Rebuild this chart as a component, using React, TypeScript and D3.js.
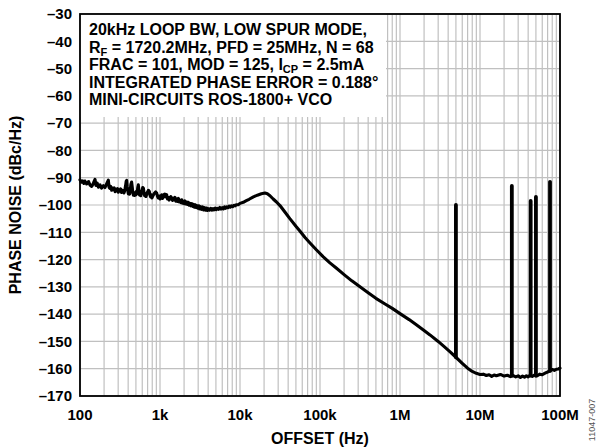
import React, { useEffect } from "react";
import * as d3 from "d3";

const yTicks = [-30, -40, -50, -60, -70, -80, -90, -100, -110, -120, -130, -140, -150, -160, -170];
const xTicks = [1e2, 1e3, 1e4, 1e5, 1e6, 1e7, 1e8];
const xTickLabels = ["100", "1k", "10k", "100k", "1M", "10M", "100M"];

// phase noise trace, [offset Hz, dBc/Hz]
const trace: [number, number][] = [
  [100, -90.8], [104, -91.6], [108, -91.2], [112, -92.1], [115, -91.2], [121, -92.3], [128, -91.4],
  [134, -92.8], [140, -93.2], [147, -92.0], [154, -90.6], [158, -92.8], [164, -92.0], [170, -93.5],
  [178, -92.6], [186, -93.8], [196, -92.9], [205, -93.6], [215, -92.3], [226, -90.9], [231, -93.5],
  [236, -93.9], [242, -93.2], [249, -94.6], [256, -93.8], [262, -94.4], [268, -93.7], [275, -95.1],
  [281, -94.2], [288, -94.8], [295, -94.0], [301, -95.3], [308, -94.5], [315, -94.8], [322, -94.1],
  [330, -95.4], [338, -94.6], [347, -94.9], [354, -95.6], [360, -95.0], [366, -94.0], [372, -92.8],
  [378, -91.3], [383, -91.0], [389, -93.2], [395, -94.6], [402, -95.9], [409, -95.4], [417, -96.0],
  [425, -94.6], [433, -92.4], [442, -91.6], [450, -93.5], [457, -95.4], [465, -96.4], [473, -95.8],
  [481, -96.5], [488, -95.4], [497, -96.3], [505, -95.1], [512, -96.0], [520, -95.0], [528, -93.5],
  [536, -92.6], [545, -94.8], [555, -96.3], [565, -95.5], [574, -96.6], [585, -95.8], [597, -94.6],
  [608, -93.6], [620, -93.8], [631, -95.5], [643, -96.6], [655, -95.9], [668, -96.9], [684, -96.0],
  [700, -95.2], [717, -94.6], [735, -95.0], [750, -96.4], [764, -97.0], [779, -96.2], [794, -97.4],
  [820, -96.5], [850, -95.7], [880, -95.2], [909, -95.6], [930, -96.8], [950, -97.4], [975, -96.7],
  [1000, -97.8], [1025, -96.8], [1050, -96.3], [1075, -97.6], [1100, -97.2], [1125, -96.2],
  [1150, -96.0], [1180, -97.0], [1210, -96.2], [1240, -97.8], [1270, -97.2], [1300, -98.2],
  [1330, -97.6], [1365, -96.9], [1400, -97.6], [1435, -98.3], [1470, -97.5], [1505, -98.1],
  [1540, -97.2], [1580, -98.6], [1620, -97.8], [1660, -98.7], [1700, -97.6], [1740, -98.9],
  [1780, -98.2], [1825, -99.1], [1870, -98.1], [1915, -99.3], [1960, -98.6], [2000, -99.5],
  [2050, -98.5], [2100, -99.6], [2150, -98.9], [2200, -99.8], [2250, -99.0], [2310, -100.1],
  [2370, -99.4], [2430, -100.3], [2500, -99.5], [2560, -100.5], [2620, -99.8], [2690, -100.8],
  [2750, -99.9], [2820, -100.9], [2900, -100.2], [2970, -101.2], [3050, -100.3], [3120, -101.4],
  [3200, -100.6], [3300, -101.6], [3400, -100.7], [3500, -101.8], [3600, -101.0], [3700, -101.9],
  [3800, -101.1], [3900, -102.0], [4000, -101.3], [4150, -101.9], [4300, -101.2], [4450, -101.9],
  [4600, -101.3], [4750, -101.8], [4900, -101.1], [5050, -101.7], [5200, -101.2], [5400, -101.6],
  [5600, -100.9], [5800, -101.5], [6000, -101.0], [6200, -101.4], [6400, -100.7], [6600, -101.2],
  [6800, -100.7], [7050, -101.0], [7300, -100.4], [7550, -100.8], [7800, -100.3], [8100, -100.6],
  [8400, -100.1], [8700, -100.3], [9000, -99.9], [9500, -99.9], [10000, -99.4], [11000, -99.0],
  [12000, -98.4], [13000, -97.9], [14700, -97.0], [16500, -96.4], [18500, -95.9], [20500, -95.6],
  [22000, -95.9], [23700, -96.6], [26000, -97.8], [28600, -98.9], [31600, -100.2], [36000, -102.4],
  [42000, -105.0], [50000, -107.8], [56000, -109.5], [65000, -111.9], [75000, -113.9], [90000, -116.4],
  [110000, -119.0], [133000, -121.2], [161000, -123.2], [200000, -125.5], [250000, -127.8],
  [316000, -130.0], [400000, -132.2], [500000, -134.2], [650000, -136.3], [800000, -137.9],
  [1e6, -139.8], [1.3e6, -142.0], [1.6e6, -143.9], [2e6, -146.0], [2.37e6, -147.6], [3e6, -150.0],
  [3.6e6, -152.0], [4.3e6, -154.0], [5e6, -155.8], [6e6, -158.0], [7e6, -159.8], [8e6, -161.0],
  [9e6, -161.7], [10e6, -162.1], [11e6, -162.0], [12e6, -162.5], [13e6, -162.2], [14e6, -162.8],
  [15e6, -162.3], [16e6, -162.6], [18e6, -162.1], [20e6, -162.7], [22e6, -162.4], [24e6, -162.9],
  [26e6, -162.5], [28e6, -163.0], [30e6, -162.6], [32e6, -163.2], [34e6, -162.7], [36e6, -163.1],
  [38e6, -162.6], [40e6, -163.0], [42e6, -162.4], [45e6, -162.8], [48e6, -162.3], [52e6, -162.6],
  [56e6, -162.0], [60e6, -162.2], [65e6, -161.6], [70e6, -161.2], [75e6, -160.8], [80e6, -160.3],
  [85e6, -160.6], [90e6, -160.2], [95e6, -160.1], [100e6, -159.8],
];

// spurs: offset, peak level, level of the floor beneath
const spurFreqs = [5e6, 25e6, 43e6, 50e6, 75e6];
const spurPeaks = [-100, -93, -98.5, -97, -91.5];
const spurBases = [-155.8, -162.5, -162.5, -162.6, -160.8];

const noteLines: [string, boolean][][] = [
  [["20kHz LOOP BW, LOW SPUR MODE,", false]],
  [["R", false], ["F", true], [" = 1720.2MHz, PFD = 25MHz, N = 68", false]],
  [["FRAC = 101, MOD = 125, I", false], ["CP", true], [" = 2.5mA", false]],
  [["INTEGRATED PHASE ERROR = 0.188°", false]],
  [["MINI-CIRCUITS ROS-1800+ VCO", false]],
];

const W = 597;
const H = 447;
const m = { top: 14, right: 37, bottom: 51, left: 80 };
const font = "'Liberation Sans', Arial, Helvetica, sans-serif";

export default function App() {
  useEffect(() => {
    document.body.style.margin = "0";
  }, []);

  const x = d3.scaleLog().domain([1e2, 1e8]).range([m.left, W - m.right]);
  const y = d3.scaleLinear().domain([-170, -30]).range([H - m.bottom, m.top]);

  // minor + major vertical grid
  const vGrid: number[] = [];
  for (let d = 2; d < 8; d++) {
    for (let k = 1; k <= 9; k++) vGrid.push(k * Math.pow(10, d));
  }
  vGrid.push(1e8);

  const line = d3
    .line<[number, number]>()
    .x((d) => x(d[0]))
    .y((d) => y(d[1]));

  const boxRight = 386;
  const boxBottom = 117;

  return (
    <svg width={W} height={H} style={{ display: "block", background: "#fff" }} fontFamily={font}>
      {/* grid */}
      <g stroke="#c0c0c0" strokeWidth={1.2}>
        {vGrid.map((v, i) => (
          <line key={"v" + i} x1={x(v)} x2={x(v)} y1={y(-30)} y2={y(-170)} />
        ))}
        {yTicks.map((t) => (
          <line key={"h" + t} x1={x(1e2)} x2={x(1e8)} y1={y(t)} y2={y(t)} />
        ))}
      </g>

      {/* note box hides the grid */}
      <rect x={x(1e2)} y={y(-30)} width={boxRight - x(1e2)} height={boxBottom - y(-30)} fill="#fff" />

      {/* frame */}
      <rect
        x={x(1e2)}
        y={y(-30)}
        width={x(1e8) - x(1e2)}
        height={y(-170) - y(-30)}
        fill="none"
        stroke="#000"
        strokeWidth={1.8}
      />

      {/* spurs */}
      <g stroke="#000" strokeWidth={3.8} strokeLinecap="round">
        {spurFreqs.map((f, i) => (
          <line key={"s" + i} x1={x(f)} x2={x(f)} y1={y(spurBases[i])} y2={y(spurPeaks[i])} />
        ))}
      </g>

      {/* trace */}
      <path
        d={line(trace) || ""}
        fill="none"
        stroke="#000"
        strokeWidth={3.1}
        strokeLinejoin="round"
        strokeLinecap="round"
      />

      {/* annotation */}
      <g fontSize={16} fontWeight="bold" fill="#000">
        {noteLines.map((parts, i) => (
          <text key={"n" + i} x={89} y={35 + i * 17.6}>
            {parts.map(([s, sub], j) =>
              sub ? (
                <tspan key={j} fontSize={11} dy={3}>
                  {s}
                </tspan>
              ) : (
                <tspan key={j} dy={j > 0 && parts[j - 1][1] ? -3 : 0}>
                  {s}
                </tspan>
              )
            )}
          </text>
        ))}
      </g>

      {/* y tick labels */}
      <g fontSize={15} fontWeight="bold" textAnchor="end">
        {yTicks.map((t) => (
          <text key={"yl" + t} x={72} y={y(t)} dy="0.35em">
            {"–" + Math.abs(t)}
          </text>
        ))}
      </g>

      {/* x tick labels */}
      <g fontSize={15} fontWeight="bold" textAnchor="middle">
        {xTicks.map((t, i) => (
          <text key={"xl" + t} x={x(t)} y={420}>
            {xTickLabels[i]}
          </text>
        ))}
      </g>

      {/* axis titles */}
      <text x={x(1e5)} y={444} fontSize={16} fontWeight="bold" textAnchor="middle">
        OFFSET (Hz)
      </text>
      <text
        transform={`translate(15,${(y(-30) + y(-170)) / 2}) rotate(-90)`}
        fontSize={16}
        fontWeight="bold"
        textAnchor="middle"
        dy="0.35em"
      >
        PHASE NOISE (dBc/Hz)
      </text>

      <text
        transform={`translate(592,420) rotate(-90)`}
        fontSize={9}
        fill="#555"
        textAnchor="middle"
        dy="0.35em"
      >
        11047-007
      </text>
    </svg>
  );
}
